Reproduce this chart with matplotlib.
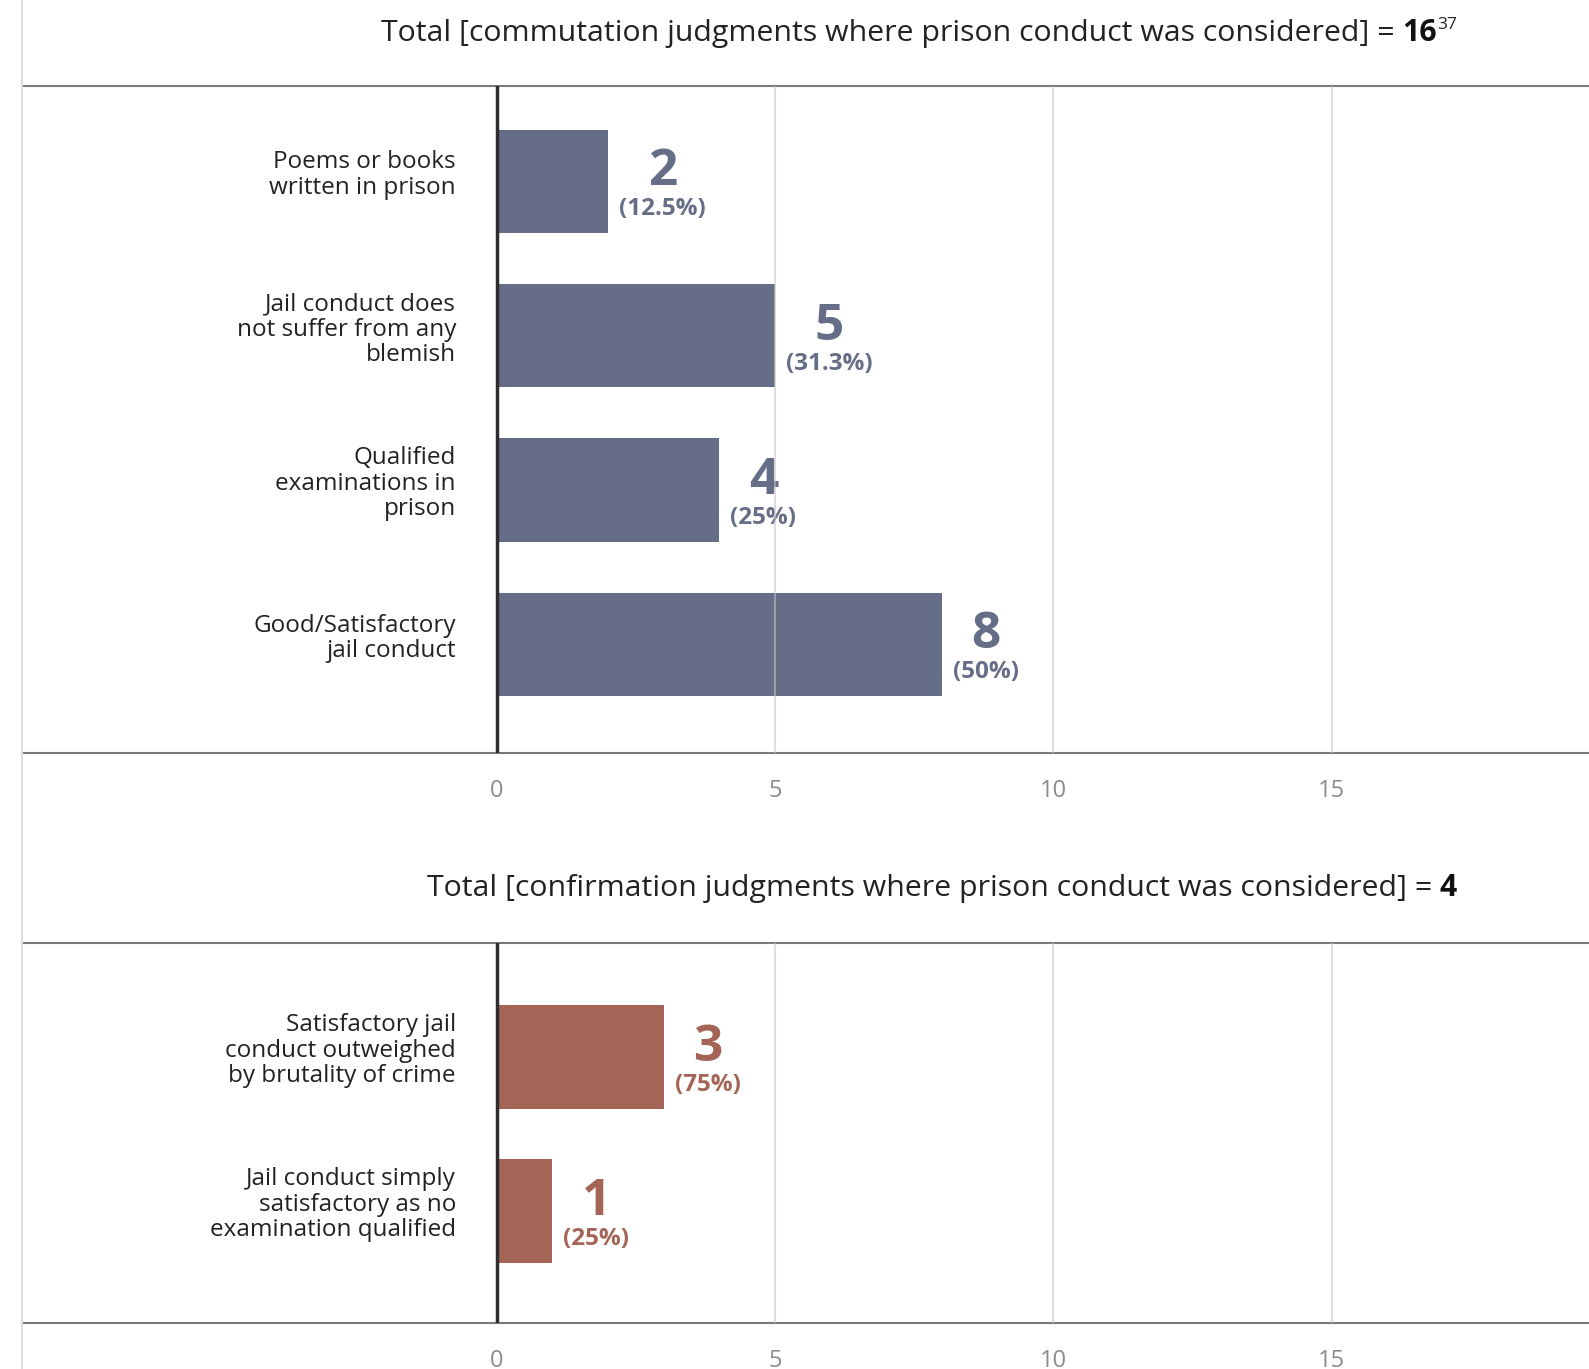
import matplotlib
matplotlib.use("Agg")
import matplotlib.pyplot as plt
from matplotlib.lines import Line2D
from matplotlib.offsetbox import TextArea, VPacker, AnnotationBbox

# data
commute_labels = ["Poems or books\nwritten in prison",
                  "Jail conduct does\nnot suffer from any\nblemish",
                  "Qualified\nexaminations in\nprison",
                  "Good/Satisfactory\njail conduct"]
commute_counts = [2, 5, 4, 8]
commute_pcts = ["12.5%", "31.3%", "25%", "50%"]
commute_total = 16

confirm_labels = ["Satisfactory jail\nconduct outweighed\nby brutality of crime",
                  "Jail conduct simply\nsatisfactory as no\nexamination qualified"]
confirm_counts = [3, 1]
confirm_pcts = ["75%", "25%"]
confirm_total = 4

x_ticks = [0, 5, 10, 15]

W, H = 1589, 1369
DPI = 100
FONT = "Open Sans"
plt.rcParams["font.family"] = [FONT, "DejaVu Sans"]

fig = plt.figure(figsize=(W / DPI, H / DPI), dpi=DPI)
fig.patch.set_facecolor("white")

# light frame line on the left
fig.add_artist(Line2D([22.3 / W] * 2, [0, 1], color="#dddddd", lw=1.5))

x_left = 22.3
x_zero = 496.6
px_per_unit = 55.68
xlim = ((x_left - x_zero) / px_per_unit, (W - x_zero) / px_per_unit)


def make_panel(top_px, bottom_px, labels, counts, pcts, color, first_off, last_off):
    ax = fig.add_axes([x_left / W, 1 - bottom_px / H, 1 - x_left / W, (bottom_px - top_px) / H])
    ypos = list(range(len(counts)))
    ax.barh(ypos, counts, height=0.67, color=color, zorder=2)
    ax.set_xlim(*xlim)
    ax.set_ylim(len(counts) - 1 + last_off, -first_off)
    for g in x_ticks[1:]:
        ax.axvline(g, color="#c4c4c4", lw=1.5, alpha=0.55, zorder=3)
    ax.axvline(0, color="#2e2e2e", lw=2.5, zorder=4)
    for s in ["left", "right"]:
        ax.spines[s].set_visible(False)
    for s in ["top", "bottom"]:
        ax.spines[s].set_color("#7a7a7a")
        ax.spines[s].set_linewidth(1.5)
    ax.set_yticks([])
    ax.set_xticks(x_ticks)
    ax.tick_params(axis="x", length=0, pad=19, labelsize=17, labelcolor="#8c8c8c")
    for y, lab in zip(ypos, labels):
        ax.text(-0.73, y - 0.04, lab, ha="right", va="center", fontsize=17.5, color="#222222",
                linespacing=1.08)
    for y, c, p in zip(ypos, counts, pcts):
        num = TextArea(str(c), textprops=dict(fontsize=37, fontweight="bold", color=color))
        pct = TextArea("(" + p + ")", textprops=dict(fontsize=17.5, fontweight="bold", color=color))
        box = VPacker(children=[num, pct], align="center", pad=0, sep=0)
        ab = AnnotationBbox(box, (c, y), xybox=(8, -2), xycoords="data",
                            boxcoords="offset points", box_alignment=(0, 0.5),
                            frameon=False, pad=0, zorder=1)
        ax.add_artist(ab)
    return ax


make_panel(86.1, 753.0, commute_labels, commute_counts, commute_pcts, "#666e87", 0.617, 0.703)
make_panel(942.5, 1322.5, confirm_labels, confirm_counts, confirm_pcts, "#a46456", 0.743, 0.724)


def title(y_px, main, total, sup=None):
    y = 1 - y_px / H
    parts = [fig.text(0, y, main, fontsize=21.8, color="#222222", va="baseline"),
             fig.text(0, y, str(total), fontsize=21.8, fontweight="bold", color="#111111",
                      va="baseline")]
    if sup:
        parts.append(fig.text(0, y + 12 / H, sup, fontsize=12.5, color="#222222", va="baseline"))
    r = fig.canvas.get_renderer()
    widths = [t.get_window_extent(r).width for t in parts]
    gap = 8
    x = 1457 - sum(widths) - gap
    for i, (t, w) in enumerate(zip(parts, widths)):
        t.set_x(x / W)
        x += w + (gap if i == 0 else 0)


title(41, "Total [commutation judgments where prison conduct was considered] =", commute_total, "37")
title(896, "Total [confirmation judgments where prison conduct was considered] =", confirm_total)

fig.savefig("out.png", dpi=DPI)
